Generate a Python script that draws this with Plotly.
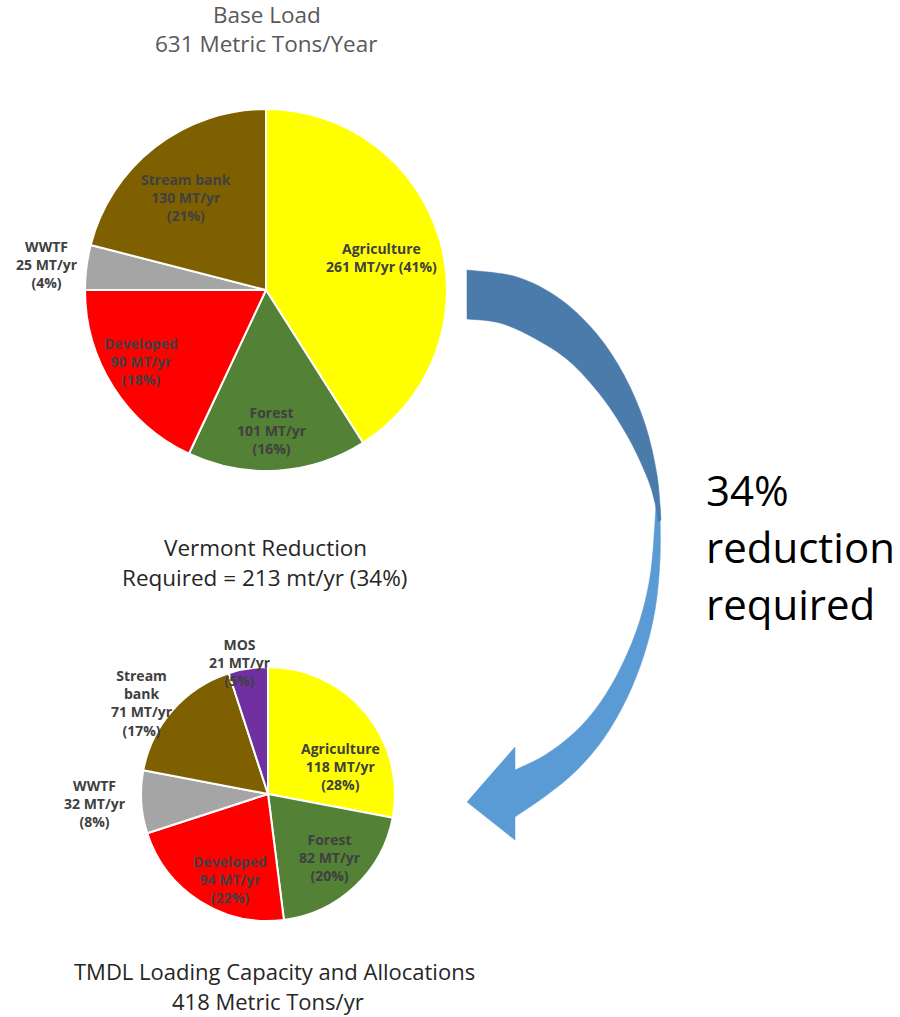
import plotly.graph_objects as go

# --- data ---
base_names = ["Agriculture", "Forest", "Developed", "WWTF", "Stream bank"]
base_mt = [261, 101, 90, 25, 130]
base_pct = [41, 16, 18, 4, 21]
base_colors = ["#FFFF00", "#538135", "#FF0000", "#A5A5A5", "#7F6000"]

tmdl_names = ["Agriculture", "Forest", "Developed", "WWTF", "Stream bank", "MOS"]
tmdl_mt = [118, 82, 94, 32, 71, 21]
tmdl_pct = [28, 20, 22, 8, 17, 5]
tmdl_colors = ["#FFFF00", "#538135", "#FF0000", "#A5A5A5", "#7F6000", "#7030A0"]

# label centres (pixels) for each slice
base_label_xy = [(381, 257), (272, 430), (141, 361), (47, 264), (186, 197)]
tmdl_label_xy = [(340, 766), (330, 857), (230, 879), (95, 803), (142, 703), (240, 662)]

W, H = 900, 1017
FONT = "Open Sans"
LABEL_COLOR = "#404040"


def px(x, y):
    return x / W, 1 - y / H


def dom(cx, cy, r):
    x0, y0 = px(cx - r, cy + r)
    x1, y1 = px(cx + r, cy - r)
    return dict(x=[x0, x1], y=[y0, y1])


base_text = []
for n, m, p in zip(base_names, base_mt, base_pct):
    if n == "Agriculture":
        base_text.append(f"{n}<br>{m} MT/yr ({p}%)")
    else:
        base_text.append(f"{n}<br>{m} MT/yr<br>({p}%)")

tmdl_text = []
for n, m, p in zip(tmdl_names, tmdl_mt, tmdl_pct):
    tmdl_text.append(f"{n.replace(' ', '<br>') if n == 'Stream bank' else n}<br>{m} MT/yr<br>({p}%)")

fig = go.Figure()

fig.add_trace(go.Pie(
    labels=base_names, values=base_pct, textinfo="none",
    sort=False, direction="clockwise", rotation=0,
    marker=dict(colors=base_colors, line=dict(color="white", width=2)),
    domain=dom(266, 290, 181), showlegend=False, hoverinfo="label+value",
))

fig.add_trace(go.Pie(
    labels=tmdl_names, values=tmdl_pct, textinfo="none",
    sort=False, direction="clockwise", rotation=0,
    marker=dict(colors=tmdl_colors, line=dict(color="white", width=2)),
    domain=dom(268, 794, 127), showlegend=False, hoverinfo="label+value",
))


# curved arrow (decoration), smooth chains through pixel points
def chain(pts):
    out = ""
    n = len(pts)
    for i in range(n - 1):
        p0 = pts[max(i - 1, 0)]
        p1 = pts[i]
        p2 = pts[i + 1]
        p3 = pts[min(i + 2, n - 1)]
        c1 = (p1[0] + (p2[0] - p0[0]) / 6, p1[1] + (p2[1] - p0[1]) / 6)
        c2 = (p2[0] - (p3[0] - p1[0]) / 6, p2[1] - (p3[1] - p1[1]) / 6)
        a, b, c = px(*c1), px(*c2), px(*p2)
        out += f" C {a[0]:.5f},{a[1]:.5f} {b[0]:.5f},{b[1]:.5f} {c[0]:.5f},{c[1]:.5f}"
    return out


def line_to(p):
    q = px(*p)
    return f" L {q[0]:.5f},{q[1]:.5f}"


def move_to(p):
    q = px(*p)
    return f"M {q[0]:.5f},{q[1]:.5f}"


dark_outer = [(467, 270), (517, 277), (560, 299), (596, 333), (624, 375),
              (645, 424), (657, 475), (661, 520)]
dark_inner = [(658, 522), (655, 503), (647, 477), (628, 437), (602, 397),
              (569, 361), (534, 338), (500, 323), (467, 319)]
light_outer = [(660, 505), (660, 560), (655, 610), (644, 655), (627, 698),
               (604, 738), (577, 770), (547, 795), (515, 817)]
light_head = [(515, 840), (467, 802), (515, 747), (515, 770)]
light_inner = [(515, 770), (545, 755), (575, 732), (600, 703), (622, 665),
               (640, 620), (651, 570), (656, 505)]

light_path = move_to(light_outer[0]) + chain(light_outer)
for p in light_head:
    light_path += line_to(p)
light_path += chain(light_inner) + " Z"

dark_path = move_to(dark_outer[0]) + chain(dark_outer) + line_to(dark_inner[0]) + chain(dark_inner) + " Z"

fig.add_shape(type="path", path=light_path, xref="paper", yref="paper",
              fillcolor="#5B9BD5", line=dict(width=0.5, color="#5B9BD5"), layer="above")
fig.add_shape(type="path", path=dark_path, xref="paper", yref="paper",
              fillcolor="#4A7BAB", line=dict(width=0.5, color="#4A7BAB"), layer="above")


def note(text, x, y, size, color, xanchor="center", bold=False):
    fx, fy = px(x, y)
    fig.add_annotation(text=text, x=fx, y=fy, xref="paper", yref="paper",
                       xanchor=xanchor, yanchor="middle", showarrow=False,
                       font=dict(family=FONT, size=size, color=color,
                                 weight="bold" if bold else "normal"))


for t, (x, y) in zip(base_text, base_label_xy):
    note(t, x, y, 14, LABEL_COLOR, bold=True)
for t, (x, y) in zip(tmdl_text, tmdl_label_xy):
    note(t, x, y, 14, LABEL_COLOR, bold=True)

note("Base Load", 267, 15, 22.5, "#595959")
note("631 Metric Tons/Year", 266, 44, 22.5, "#595959")
note("Vermont Reduction", 265, 547, 22.5, "#262626")
note("Required = 213 mt/yr (34%)", 264, 577, 22.5, "#262626")
note("TMDL Loading Capacity and Allocations", 274, 971, 22, "#262626")
note("418 Metric Tons/yr", 268, 1001, 22, "#262626")
note("34%", 704, 489, 42, "#000000", "left")
note("reduction", 704, 546, 42, "#000000", "left")
note("required", 704, 603, 42, "#000000", "left")

fig.update_layout(
    width=W, height=H,
    margin=dict(l=0, r=0, t=0, b=0),
    paper_bgcolor="white", plot_bgcolor="white",
    font=dict(family=FONT),
)

fig.write_html("out.html", config={"displayModeBar": False},
               post_script="document.body.style.margin='0px';")
